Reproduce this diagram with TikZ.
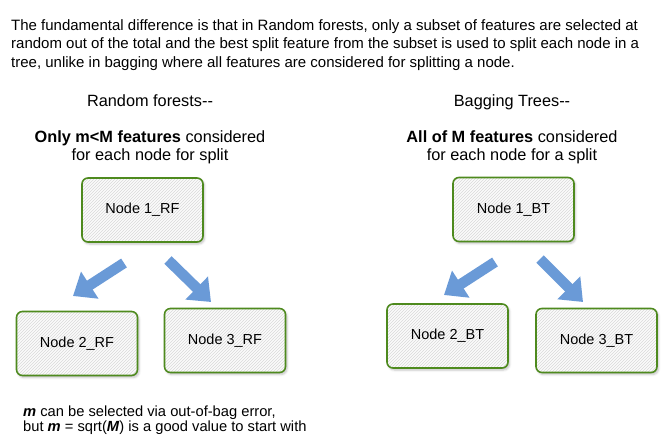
\documentclass[tikz,border=0pt]{standalone}
\usepackage{fontspec}
\setmainfont{Liberation Sans}
\usetikzlibrary{arrows.meta, patterns, shadows.blur}
\definecolor{treeGreen}{HTML}{4E8A1E}
\definecolor{splitBlue}{HTML}{6A9AD7}

\begin{document}
\begin{tikzpicture}[x=1pt, y=-1pt,
  box/.style={draw=treeGreen, line width=1.6pt, rounded corners=6pt,
              minimum width=121pt, minimum height=64pt,
              font=\fontsize{14.5}{17}\selectfont,
              blur shadow={shadow xshift=1.5pt, shadow yshift=-2pt, shadow opacity=25},
              preaction={fill=gray!3},
              pattern=north east lines, pattern color=gray!30},
  split/.style={-{Triangle[width=31pt, length=20pt]}, line width=10.5pt, splitBlue},
  head/.style={font=\fontsize{16.3}{18}\selectfont, align=center, inner sep=0pt, anchor=north}
]
  \useasboundingbox (0,0) rectangle (672,444);

  \node[anchor=north west, inner sep=0pt, align=left,
        font=\fontsize{15}{18.5}\selectfont] (intro) at (11,19)
    {The fundamental difference is that in Random forests, only a subset of features are selected at\\
     random out of the total and the best split feature from the subset is used to split each node in a\\
     tree, unlike in bagging where all features are considered for splitting a node.};

  % random forests
  \node[head] (rfhead) at (150,94) {Random forests-{}-};
  \node[head] (rfcond) at (150,130) {\textbf{Only m<M features} considered\\for each node for split};
  \node[box] (rf1) at (142.5,210) {Node 1\_RF};
  \node[box] (rf2) at (77,343.5) {Node 2\_RF};
  \node[box] (rf3) at (225,340.5) {Node 3\_RF};

  \coordinate (rf12a) at (124,263);
  \coordinate (rf12b) at (73,296);
  \coordinate (rf13a) at (168,260);
  \coordinate (rf13b) at (211,302);
  \draw[split] (rf12a) -- (rf12b);
  \draw[split] (rf13a) -- (rf13b);

  \node[anchor=north west, inner sep=0pt, align=left,
        font=\fontsize{14.7}{15}\selectfont] (note) at (23,406)
    {\textbf{\textit{m}} can be selected via out-of-bag error,\\
     but \textbf{\textit{m}} = sqrt(\textbf{\textit{M}}) is a good value to start with};

  % bagging trees
  \node[head] (bthead) at (512,94) {Bagging Trees-{}-};
  \node[head] (btcond) at (512,130) {\textbf{All of M features} considered\\for each node for a split};
  \node[box] (bt1) at (513.5,209.5) {Node 1\_BT};
  \node[box] (bt2) at (447.5,336) {Node 2\_BT};
  \node[box] (bt3) at (596.5,340.5) {Node 3\_BT};

  \coordinate (bt12a) at (495,262);
  \coordinate (bt12b) at (444,295);
  \coordinate (bt13a) at (540,259);
  \coordinate (bt13b) at (583,302);
  \draw[split] (bt12a) -- (bt12b);
  \draw[split] (bt13a) -- (bt13b);
\end{tikzpicture}
\end{document}
